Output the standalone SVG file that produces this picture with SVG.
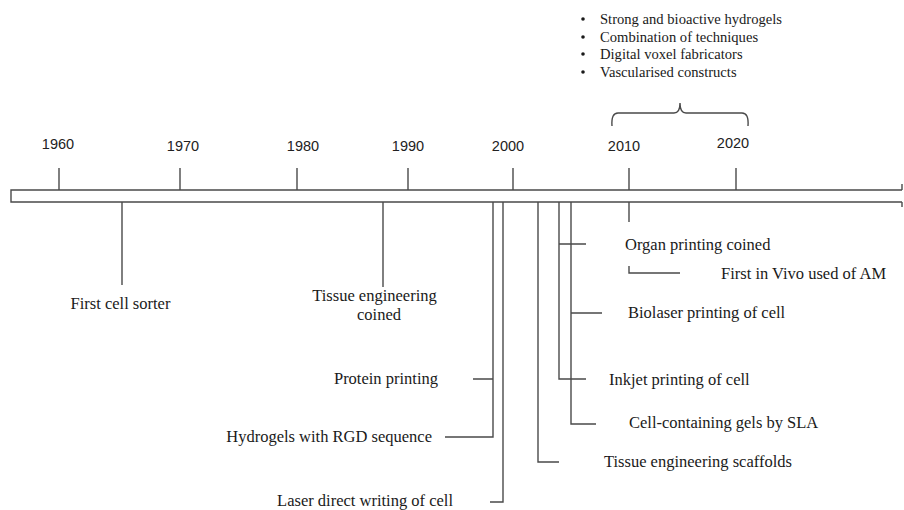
<svg xmlns="http://www.w3.org/2000/svg" width="904" height="510" viewBox="0 0 904 510">
<style>
.ln{stroke:#4a4a4a;stroke-width:1.4;fill:none}
.yr{font-family:"Liberation Sans",Arial,sans-serif;font-size:14.5px;fill:#222;text-anchor:middle}
.lb{font-family:"Liberation Serif","Times New Roman",serif;font-size:16.5px;fill:#1a1a1a}
.bl{font-family:"Liberation Serif","Times New Roman",serif;font-size:14.6px;fill:#1a1a1a}
.dot{fill:#1a1a1a}
.e{text-anchor:end}
.m{text-anchor:middle}
</style>
<rect width="904" height="510" fill="#fff"/>
<g id="timeline">
<path class="ln" d="M902,190 H11 V202 H902 M902,184 V190 M902,202 V207"/>
<path class="ln" d="M59,168V190 M180,168V190 M297,168V190 M408,168V190 M513,168V190 M629,168V190 M736,168V190"/>
<text class="yr" x="58" y="149">1960</text>
<text class="yr" x="183" y="151">1970</text>
<text class="yr" x="303" y="151">1980</text>
<text class="yr" x="408" y="151">1990</text>
<text class="yr" x="508" y="151">2000</text>
<text class="yr" x="624" y="151">2010</text>
<text class="yr" x="733" y="148">2020</text>
</g>
<g id="connectors">
<path class="ln" d="M122,202V285 M383,202V287"/>
<path class="ln" d="M493,202V437H445 M473,379H493"/>
<path class="ln" d="M503,202V502H490"/>
<path class="ln" d="M538,202V462H559"/>
<path class="ln" d="M559,202V379H586 M559,244H586"/>
<path class="ln" d="M571,202V424H596 M571,313H602"/>
<path class="ln" d="M629,202V222 M629,266V273H680"/>
<path class="ln" d="M612,126 Q611,113 618,113 H674 Q680,113 680,103 Q680,113 686,113 H742 Q749,113 748,126"/>
</g>
<g id="future">
<circle class="dot" cx="583" cy="19" r="1.8"/><text class="bl" x="600" y="24">Strong and bioactive hydrogels</text>
<circle class="dot" cx="583" cy="37" r="1.8"/><text class="bl" x="600" y="42">Combination of techniques</text>
<circle class="dot" cx="583" cy="54" r="1.8"/><text class="bl" x="600" y="59">Digital voxel fabricators</text>
<circle class="dot" cx="583" cy="72" r="1.8"/><text class="bl" x="600" y="77">Vascularised constructs</text>
</g>
<g id="first-cell-sorter"><text class="lb m" x="120.5" y="309">First cell sorter</text></g>
<g id="tissue-engineering-coined"><text class="lb m" x="374.5" y="301" font-size="16">Tissue engineering</text><text class="lb m" x="379" y="320" font-size="16">coined</text></g>
<g id="protein-printing"><text class="lb e" x="438" y="384">Protein printing</text></g>
<g id="hydrogels-rgd"><text class="lb e" x="432" y="442">Hydrogels with RGD sequence</text></g>
<g id="laser-direct-writing"><text class="lb e" x="453" y="506">Laser direct writing of cell</text></g>
<g id="tissue-engineering-scaffolds"><text class="lb" x="604" y="467">Tissue engineering scaffolds</text></g>
<g id="inkjet-printing"><text class="lb" x="609" y="385">Inkjet printing of cell</text></g>
<g id="cell-containing-gels"><text class="lb" x="629" y="428">Cell-containing gels by SLA</text></g>
<g id="organ-printing"><text class="lb" x="625" y="250">Organ printing coined</text></g>
<g id="first-in-vivo"><text class="lb" x="721" y="279">First in Vivo used of AM</text></g>
<g id="biolaser-printing"><text class="lb" x="628" y="318">Biolaser printing of cell</text></g>
</svg>
